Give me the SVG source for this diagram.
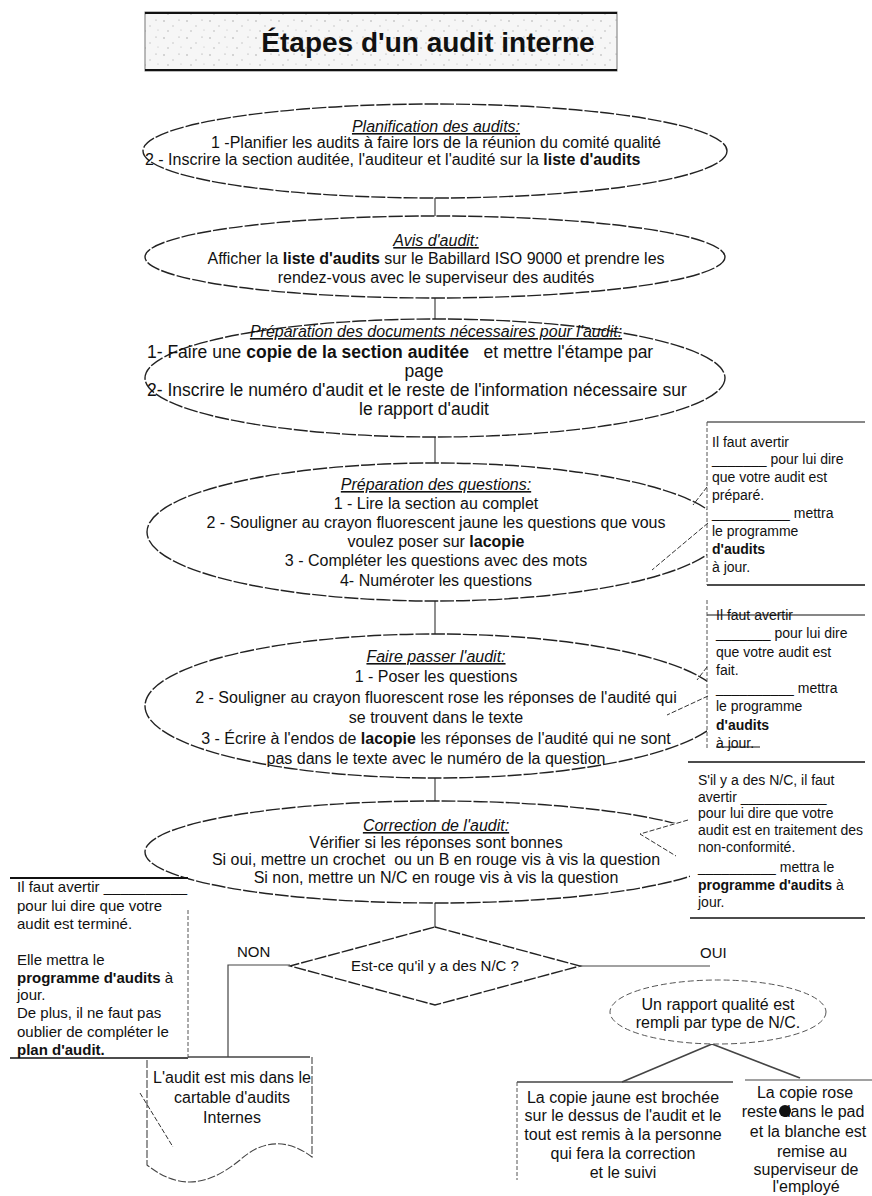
<svg xmlns="http://www.w3.org/2000/svg" width="872" height="1196" viewBox="0 0 872 1196">
<defs>
<pattern id="speck" width="23" height="17" patternUnits="userSpaceOnUse">
<rect width="23" height="17" fill="#f6f6f6"/>
<circle cx="3" cy="4" r="0.8" fill="#aaa"/>
<circle cx="12" cy="9" r="0.7" fill="#bbb"/>
<circle cx="18" cy="3" r="0.6" fill="#999"/>
<circle cx="7" cy="14" r="0.7" fill="#aaa"/>
<circle cx="20" cy="13" r="0.6" fill="#bbb"/>
</pattern>
</defs>
<style>
text{font-family:"Liberation Sans",Arial,sans-serif;fill:#111}
.t{font-size:16px;text-anchor:middle}
.t3{font-size:17.5px;text-anchor:middle}
.h{font-size:16px;text-anchor:middle;font-style:italic;text-decoration:underline}
.c{font-size:14px}
.l{font-size:15px}
.b{font-weight:bold}
.ell{fill:#fff;stroke:#222;stroke-width:1.4;stroke-dasharray:14 2}
.conn{stroke:#444;stroke-width:1.2;fill:none}
.bar{stroke:#111;stroke-width:1.8}
.side{stroke:#555;stroke-width:1;stroke-dasharray:4 2}
.lead{stroke:#333;stroke-width:1;stroke-dasharray:5 2;fill:none}
</style>

<g id="title">
<rect x="145" y="12" width="472" height="59" fill="url(#speck)" stroke="#777" stroke-width="1"/>
<line x1="145" y1="13" x2="617" y2="13" class="bar"/>
<line x1="145" y1="70" x2="617" y2="70" class="bar"/>
<text x="428" y="52" style="font-size:28px;font-weight:bold;text-anchor:middle">Étapes d'un audit interne</text>
</g>

<g id="connectors">
<line x1="435" y1="198" x2="435" y2="216" class="conn"/>
<line x1="435" y1="298" x2="435" y2="320" class="conn"/>
<line x1="435" y1="437" x2="435" y2="463" class="conn"/>
<line x1="435" y1="601" x2="435" y2="635" class="conn"/>
<line x1="435" y1="778" x2="435" y2="802" class="conn"/>
<line x1="435" y1="903" x2="435" y2="927" class="conn"/>
<polyline points="290,965 228,965 228,1057" class="conn"/>
<line x1="580" y1="966" x2="710" y2="966" class="conn"/>
<line x1="712" y1="1044" x2="622" y2="1082" class="conn" style="stroke-width:1.6"/>
<line x1="712" y1="1044" x2="800" y2="1078" class="conn" style="stroke-width:1.6"/>
</g>

<g id="n1">
<ellipse cx="435" cy="151" rx="292" ry="47" class="ell"/>
<text x="436" y="132" class="h">Planification des audits:</text>
<text x="436" y="148" class="t">1 -Planifier les audits à faire lors de la réunion du comité qualité</text>
<text x="145" y="165" class="t" style="text-anchor:start">2 - Inscrire la section auditée, l'auditeur et l'audité sur la <tspan class="b">liste d'audits</tspan></text>
</g>

<g id="n2">
<ellipse cx="435" cy="257" rx="290" ry="41" class="ell"/>
<text x="436" y="246" class="h">Avis d'audit:</text>
<text x="436" y="264" class="t">Afficher la <tspan class="b">liste d'audits</tspan> sur le Babillard ISO 9000 et prendre les</text>
<text x="436" y="283" class="t">rendez-vous avec le superviseur des audités</text>
</g>

<g id="n3">
<ellipse cx="435" cy="378" rx="290" ry="59" class="ell"/>
<text x="436" y="337" class="h">Préparation des documents nécessaires pour l'audit:</text>
<text x="147" y="358" class="t3" style="text-anchor:start" xml:space="preserve">1- Faire une <tspan class="b">copie de la section auditée</tspan>   et mettre l'étampe par</text>
<text x="424" y="377" class="t3">page</text>
<text x="147" y="396" class="t3" style="text-anchor:start">2- Inscrire le numéro d'audit et le reste de l'information nécessaire sur</text>
<text x="424" y="415" class="t3">le rapport d'audit</text>
</g>

<g id="n4">
<ellipse cx="435" cy="532" rx="288" ry="69" class="ell"/>
<text x="436" y="490" class="h">Préparation des questions:</text>
<text x="436" y="509" class="t">1 - Lire la section au complet</text>
<text x="436" y="528" class="t">2 - Souligner au crayon fluorescent jaune les questions que vous</text>
<text x="436" y="547" class="t">voulez poser sur <tspan class="b">lacopie</tspan></text>
<text x="436" y="566" class="t">3 - Compléter les questions avec des mots</text>
<text x="436" y="586" class="t">4- Numéroter les questions</text>
</g>

<g id="n5">
<ellipse cx="435" cy="706" rx="290" ry="72" class="ell"/>
<text x="436" y="662" class="h">Faire passer l'audit:</text>
<text x="436" y="682" class="t">1 - Poser les questions</text>
<text x="436" y="703" class="t">2 - Souligner au crayon fluorescent rose les réponses de l'audité qui</text>
<text x="436" y="723" class="t">se trouvent dans le texte</text>
<text x="436" y="744" class="t">3 - Écrire à l'endos de <tspan class="b">lacopie</tspan> les réponses de l'audité qui ne sont</text>
<text x="436" y="764" class="t">pas dans le texte avec le numéro de la question</text>
</g>

<g id="n6">
<ellipse cx="435" cy="852" rx="290" ry="51" class="ell"/>
<text x="436" y="831" class="h">Correction de l'audit:</text>
<text x="436" y="848" class="t">Vérifier si les réponses sont bonnes</text>
<text x="436" y="865" class="t" xml:space="preserve">Si oui, mettre un crochet  ou un B en rouge vis à vis la question</text>
<text x="436" y="883" class="t">Si non, mettre un N/C en rouge vis à vis la question</text>
</g>

<g id="callout1">
<rect x="707" y="422" width="165" height="163" fill="#fff"/>
<line x1="707" y1="422" x2="865" y2="422" class="bar" style="stroke-width:1.2"/>
<line x1="707" y1="585" x2="865" y2="585" class="bar" style="stroke-width:1.4"/>
<line x1="707" y1="422" x2="707" y2="585" class="side"/>
<polyline points="707,487 693,505" class="lead"/>
<polyline points="708,523 652,570" class="lead"/>
<text x="712" y="447" class="c">Il faut avertir</text>
<text x="712" y="464" class="c">_______ pour lui dire</text>
<text x="712" y="482" class="c">que votre audit est</text>
<text x="712" y="500" class="c">préparé.</text>
<text x="712" y="518" class="c">__________ mettra</text>
<text x="712" y="536" class="c">le programme</text>
<text x="712" y="554" class="c b">d'audits</text>
<text x="712" y="572" class="c">à jour.</text>
</g>

<g id="callout2">
<rect x="707" y="600" width="165" height="162" fill="#fff"/>
<line x1="707" y1="615" x2="865" y2="615" class="bar" style="stroke-width:1.2"/>
<line x1="707" y1="600" x2="707" y2="750" class="side"/>
<polyline points="707,667 697,680" class="lead"/>
<polyline points="708,696 667,715" class="lead"/>
<text x="716" y="620" class="c">Il faut avertir</text>
<text x="716" y="638" class="c">_______ pour lui dire</text>
<text x="716" y="657" class="c">que votre audit est</text>
<text x="716" y="675" class="c">fait.</text>
<text x="716" y="693" class="c">__________ mettra</text>
<text x="716" y="711" class="c">le programme</text>
<text x="716" y="730" class="c b">d'audits</text>
<text x="716" y="748" class="c">à jour.</text>
<line x1="716" y1="747" x2="760" y2="747" class="bar" style="stroke-width:1"/>
</g>

<g id="callout3">
<polygon points="690,762 872,762 872,918 690,918 690,852 640,834 690,818" fill="#fff"/>
<line x1="688" y1="762" x2="865" y2="762" class="bar" style="stroke-width:1.4"/>
<line x1="690" y1="918" x2="865" y2="918" class="bar" style="stroke-width:1.4"/>
<polyline points="688,820 640,834 676,856" class="lead"/>
<text x="698" y="785" class="c">S'il y a des N/C, il faut</text>
<text x="698" y="802" class="c">avertir ___________</text>
<text x="698" y="818" class="c">pour lui dire que votre</text>
<text x="698" y="835" class="c">audit est en traitement des</text>
<text x="698" y="852" class="c">non-conformité.</text>
<text x="698" y="872" class="c">__________ mettra le</text>
<text x="698" y="890" class="c"><tspan class="b">programme d'audits</tspan>  à</text>
<text x="698" y="907" class="c">jour.</text>
</g>

<g id="callout4">
<rect x="10" y="878" width="178" height="180" fill="#fff"/>
<line x1="10" y1="878" x2="188" y2="878" class="bar"/>
<line x1="10" y1="1058" x2="188" y2="1058" class="bar" style="stroke-width:1.4"/>
<line x1="188" y1="910" x2="188" y2="1058" class="side"/>
<line x1="140" y1="1093" x2="173" y2="1147" class="lead"/>
<text x="17" y="892" class="l">Il faut avertir __________</text>
<text x="17" y="911" class="l">pour lui dire que votre</text>
<text x="17" y="929" class="l">audit est terminé.</text>
<text x="17" y="965" class="l">Elle mettra le</text>
<text x="17" y="983" class="l"><tspan class="b">programme d'audits</tspan>  à</text>
<text x="17" y="1000" class="l">jour.</text>
<text x="17" y="1018" class="l">De plus, il ne faut pas</text>
<text x="17" y="1037" class="l">oublier de compléter le</text>
<text x="17" y="1055" class="l b">plan d'audit.</text>
</g>

<g id="decision">
<polygon points="435,927 580,966 435,1005 290,966" fill="#fff" stroke="#222" stroke-width="1.4" stroke-dasharray="12 2"/>
<text x="435" y="971" class="t" style="font-size:15px">Est-ce qu'il y a des N/C ?</text>
<text x="237" y="957" class="l">NON</text>
<text x="700" y="958" class="l">OUI</text>
</g>

<g id="doc">
<line x1="188" y1="1057" x2="310" y2="1057" class="conn" style="stroke-width:1.4"/>
<path d="M147,1060 L147,1165 C185,1195 215,1180 240,1160 C262,1140 287,1138 312,1157 L312,1057" fill="none" stroke="#444" stroke-width="1.1" stroke-dasharray="8 2"/>
<text x="232" y="1083" class="t">L'audit est mis dans le</text>
<text x="232" y="1103" class="t">cartable d'audits</text>
<text x="232" y="1123" class="t">Internes</text>
</g>

<g id="rapport">
<ellipse cx="718" cy="1012" rx="108" ry="32" fill="#fff" stroke="#555" stroke-width="1" stroke-dasharray="6 3"/>
<text x="718" y="1010" class="t">Un rapport qualité est</text>
<text x="718" y="1028" class="t">rempli par type de N/C.</text>
</g>

<g id="jaune">
<line x1="517" y1="1082" x2="733" y2="1082" class="conn" style="stroke-width:1.4"/>
<line x1="517" y1="1082" x2="517" y2="1180" class="side"/>
<text x="623" y="1103" class="t">La copie jaune est brochée</text>
<text x="623" y="1121" class="t">sur le dessus de l'audit et le</text>
<text x="623" y="1140" class="t">tout est remis à la personne</text>
<text x="623" y="1159" class="t">qui fera la correction</text>
<text x="623" y="1178" class="t">et le suivi</text>
</g>

<g id="rose">
<line x1="745" y1="1080" x2="872" y2="1080" class="conn" style="stroke-width:1.2"/>
<text x="805" y="1098" class="t">La copie rose</text>
<text x="803" y="1117" class="t">reste dans le pad</text>
<ellipse cx="785" cy="1111" rx="6" ry="6" fill="#111"/>
<text x="808" y="1137" class="t">et la blanche est</text>
<text x="812" y="1157" class="t">remise au</text>
<text x="806" y="1175" class="t">superviseur de</text>
<text x="806" y="1192" class="t">l'employé</text>
</g>
</svg>
